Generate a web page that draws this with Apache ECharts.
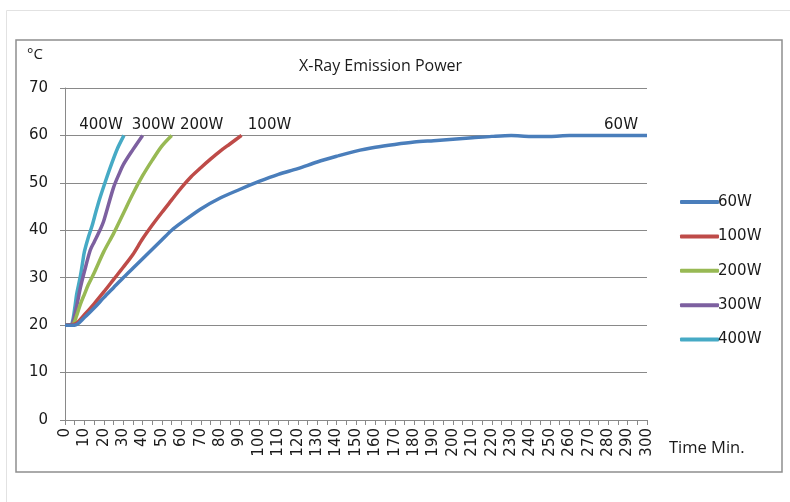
<!DOCTYPE html>
<html>
<head>
<meta charset="utf-8">
<script src="https://cdn.jsdelivr.net/npm/echarts@6/dist/echarts.min.js"></script>
<style>
html,body{margin:0;padding:0;background:#fff;}
#chart{width:790px;height:502px;}
</style>
</head>
<body>
<div id="chart"></div>
<script>
// ---- Data ----
const chartTitle = 'X-Ray Emission Power';
const yUnit = '°C';
const xUnit = 'Time Min.';
const seriesNames = ['60W', '100W', '200W', '300W', '400W'];

const t60 = [0,5,10,15,20,25,30,35,40,45,50,55,60,70,80,90,100,110,120,130,140,150,160,170,180,190,200,210,220,230,240,250,260,270,280,290,300];
const v60 = [20,20,21.6,23.6,25.8,27.9,30,32,34,36,38,40,41.6,44.5,46.8,48.6,50.3,51.8,53,54.4,55.6,56.7,57.5,58.1,58.6,58.9,59.2,59.5,59.8,60,59.8,59.8,60,60,60,60,60];

const t100 = [0,5,10,15,20,25,30,35,40,45,50,55,60,65,70,75,80,85,91];
const v100 = [20,20.2,22.2,24.5,27,29.6,32.2,34.9,38.2,41.1,43.8,46.4,49,51.3,53.2,55,56.7,58.2,60];

const t200 = [0,4,6,8,10,12,15,20,25,30,35,40,45,50,55];
const v200 = [20,20.2,22,24.5,26.5,28.5,31,35.5,39.3,43.5,47.7,51.5,54.8,57.8,60];

const t300 = [0,3,4,6,8,10,13,15,18,20,25,28,30,35,40];
const v300 = [20,20,20.5,24,28,31.3,35.8,37.5,40,42,49,52,53.8,57,60];

const t400 = [0,3,4,5,6,7,8,9,10,12,14,16,18,21,24,27,30.4];
const v400 = [20,20,21,23.5,26.5,28.5,30.5,33,35.5,38.5,41,44,46.8,50.5,54,57.2,60];

const xTicksMin = 0, xTicksMax = 300, xTickStep = 10;
const yTicksMin = 0, yTicksMax = 70, yTickStep = 10;

// ---- Styles ----
const colors = ['#4A7EBB', '#BE4B48', '#98B954', '#7D60A0', '#46AAC5'];
const endLabelOffsets = { '60W': [-26, 0], '100W': [28, 0], '200W': [30, 0], '300W': [11, 0], '400W': [-23, 0] };
const times = [t60, t100, t200, t300, t400];
const vals = [v60, v100, v200, v300, v400];

const FONT = 'DejaVu Sans';

const series = seriesNames.map((name, i) => {
  const t = times[i], v = vals[i];
  const last = t.length - 1;
  return {
    name, type: 'line',
    data: t.map((x, k) => [x, v[k]]),
    showSymbol: false, symbol: 'none',
    smooth: 0.3,
    lineStyle: { color: colors[i], width: 3.5 },
    itemStyle: { color: colors[i] },
    markPoint: {
      symbol: 'circle', symbolSize: 0, silent: true,
      itemStyle: { color: 'rgba(0,0,0,0)' },
      label: {
        show: true, position: 'top', distance: 3,
        offset: endLabelOffsets[name],
        formatter: name, color: '#1a1a1a', fontFamily: FONT, fontSize: 15
      },
      data: [{ coord: [t[last], v[last]] }]
    },
    z: 10 - i,
    animation: false
  };
});

const chart = echarts.init(document.getElementById('chart'), null, { renderer: 'canvas' });
chart.setOption({
  animation: false,
  backgroundColor: '#fff',
  title: {
    text: chartTitle, left: 294, top: 53,
    textStyle: { fontFamily: 'Open Sans', fontSize: 16, fontWeight: 'normal', color: '#1a1a1a' }
  },
  graphic: [
    { type: 'line', shape: { x1: 6.5, y1: 10.5, x2: 790, y2: 10.5 }, style: { stroke: '#e2e2e2', lineWidth: 1 }, silent: true },
    { type: 'line', shape: { x1: 6.5, y1: 10.5, x2: 6.5, y2: 502 }, style: { stroke: '#e2e2e2', lineWidth: 1 }, silent: true },
    { type: 'rect', shape: { x: 16, y: 40, width: 766, height: 432 }, style: { fill: 'none', stroke: '#8f8f8f', lineWidth: 1.5 }, silent: true, z: -1 },
    { type: 'text', left: 27, top: 47, style: { text: yUnit, font: '15px "Open Sans"', fill: '#1a1a1a' } },
    { type: 'text', left: 669, top: 440, style: { text: xUnit, font: '16.5px "Open Sans"', fill: '#1a1a1a' } }
  ],
  legend: {
    orient: 'vertical', left: 675, top: 189.5,
    itemWidth: 39, itemHeight: 4, itemGap: 19.4,
    icon: 'roundRect',
    textStyle: { fontFamily: FONT, fontSize: 15, color: '#1a1a1a', lineHeight: 15, padding: [0, 0, 0, -6] },
    data: seriesNames
  },
  grid: { left: 65, right: 143, top: 88, bottom: 82, containLabel: false },
  xAxis: {
    type: 'value', min: xTicksMin, max: xTicksMax, interval: xTickStep,
    axisLine: { show: true, lineStyle: { color: '#898989', width: 1 } },
    axisTick: { show: true, length: 5, lineStyle: { color: '#898989' } },
    minorTick: { show: true, splitNumber: 2, length: 5, lineStyle: { color: '#898989' } },
    splitLine: { show: false },
    axisLabel: { rotate: 90, margin: 8, fontFamily: FONT, fontSize: 15, color: '#1a1a1a' }
  },
  yAxis: {
    type: 'value', min: yTicksMin, max: yTicksMax, interval: yTickStep,
    axisLine: { show: true, lineStyle: { color: '#898989', width: 1 } },
    axisTick: { show: true, length: 5, lineStyle: { color: '#898989' } },
    splitLine: { show: true, lineStyle: { color: '#898989', width: 1 } },
    axisLabel: { margin: 17, fontFamily: FONT, fontSize: 15, color: '#1a1a1a' }
  },
  series
});
</script>
</body>
</html>
